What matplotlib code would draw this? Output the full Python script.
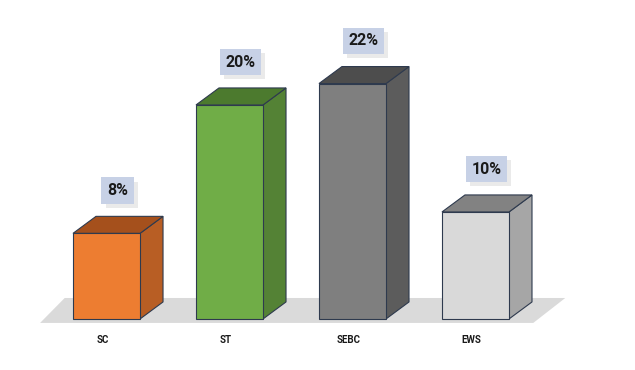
import matplotlib
matplotlib.use("Agg")
import matplotlib.pyplot as plt
import matplotlib.patheffects as pe
from matplotlib.patches import Polygon

# data
categories = ["SC", "ST", "SEBC", "EWS"]
values = [8, 20, 22, 10]
labels = ["8%", "20%", "22%", "10%"]

front_colors = ["#ED7D31", "#70AD47", "#7F7F7F", "#D9D9D9"]
side_colors = ["#B85E24", "#548235", "#5C5C5C", "#A6A6A6"]
top_colors = ["#A5501C", "#4C7A2E", "#4D4D4D", "#828282"]
edge = "#2E3A4E"

W, H = 635, 370
fig = plt.figure(figsize=(W / 100, H / 100), dpi=100)
ax = fig.add_axes([0, 0, 1, 1])
ax.set_xlim(-0.866, 4.297)
ax.set_ylim(-4.77, 29.81)
ax.axis("off")

width = 0.545
dx, dy = 0.187, 1.59

# floor
floor = Polygon([(-0.54, -0.37), (3.47, -0.37), (3.73, 1.96), (-0.34, 1.96)],
                closed=True, facecolor="#DADADA", edgecolor="none", zorder=0)
ax.add_patch(floor)

for i, v in enumerate(values):
    x0 = i - width / 2
    x1 = i + width / 2
    ax.bar(i, v, width=width, color=front_colors[i], edgecolor=edge,
           linewidth=0.8, zorder=3)
    side = Polygon([(x1, 0), (x1 + dx, dy), (x1 + dx, v + dy), (x1, v)],
                   closed=True, facecolor=side_colors[i], edgecolor=edge,
                   linewidth=0.8, zorder=2)
    top = Polygon([(x0, v), (x1, v), (x1 + dx, v + dy), (x0 + dx, v + dy)],
                  closed=True, facecolor=top_colors[i], edgecolor=edge,
                  linewidth=0.8, zorder=2)
    ax.add_patch(side)
    ax.add_patch(top)

    # value label in a shaded box
    t = ax.text(i + 0.09, v + 4.0, labels[i], fontsize=11.5, fontweight="bold",
                family="Roboto", color="#1A1A1A", ha="center", va="center",
                zorder=5,
                bbox=dict(boxstyle="square,pad=0.35", facecolor="#C7D1E6",
                          edgecolor="none"))
    t.get_bbox_patch().set_path_effects([
        pe.withSimplePatchShadow(offset=(3, -3), shadow_rgbFace="#DCDCDC",
                                 alpha=0.6),
    ])

    ax.text(i - 0.03, -1.96, categories[i], fontsize=7, fontweight="bold",
            family="Roboto", color="#1A1A1A", ha="center", va="center")

fig.savefig("out.png", dpi=100, facecolor="white")
